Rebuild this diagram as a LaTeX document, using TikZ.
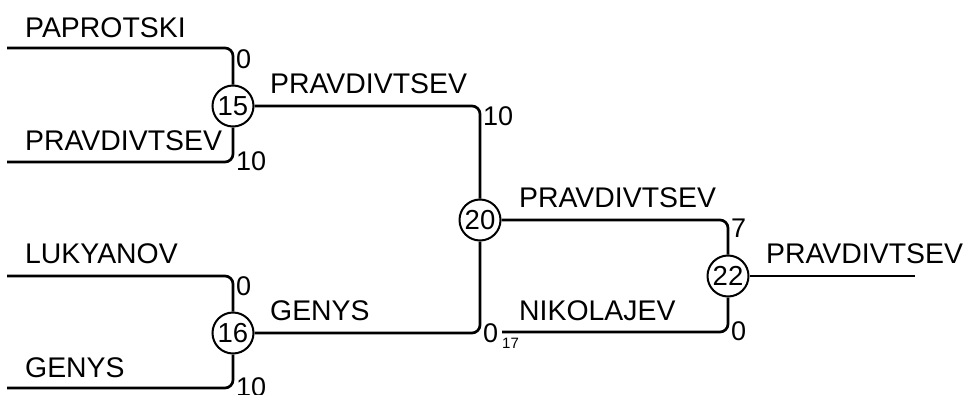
\documentclass[tikz,border=0pt]{standalone}
\usepackage{fontspec}
\setmainfont{Liberation Sans}
\begin{document}
\begin{tikzpicture}[x=1pt,y=-1pt,
  conn/.style={line width=2.7pt, rounded corners=8pt, line cap=butt},
  match/.style={circle, draw, line width=2pt, minimum size=41pt, inner sep=0pt, font=\fontsize{27.5}{27.5}\selectfont},
  pname/.style={anchor=base west, inner sep=0pt, font=\fontsize{28.4}{28.4}\selectfont},
  score/.style={anchor=base west, inner sep=0pt, font=\fontsize{27}{27}\selectfont},
  sub/.style={anchor=base west, inner sep=0pt, font=\fontsize{15}{15}\selectfont}]
\useasboundingbox (0,0) rectangle (964,394);
% matches
\node[match] (m15) at (233,106) {15};
\node[match] (m16) at (233,333) {16};
\node[match] (m20) at (480,220) {20};
\node[match] (m22) at (728,276) {22};
% free ends
\coordinate (a1) at (7,48);
\coordinate (a2) at (7,162);
\coordinate (a3) at (7,276);
\coordinate (a4) at (7,388);
\coordinate (a5) at (502,332);
\coordinate (w) at (915,276);
% connectors
\draw[conn] (a1) -| (m15);
\draw[conn] (a2) -| (m15);
\draw[conn] (a3) -| (m16);
\draw[conn] (a4) -| (m16);
\draw[conn] (m15) -| (m20);
\draw[conn] (m16) -| (m20);
\draw[conn] (m20) -| (m22);
\draw[conn] (a5) -| (m22);
\draw[conn] (m22) -- (w);
% names
\node[pname] (n1) at (25,37) {PAPROTSKI};
\node[pname] (n2) at (25,150) {PRAVDIVTSEV};
\node[pname] (n3) at (25,263) {LUKYANOV};
\node[pname] (n4) at (25,377) {GENYS};
\node[pname] (n5) at (270,93) {PRAVDIVTSEV};
\node[pname] (n6) at (270,320) {GENYS};
\node[pname] (n7) at (519,207) {PRAVDIVTSEV};
\node[pname] (n8) at (519,320) {NIKOLAJEV};
\node[pname] (n9) at (766,263) {PRAVDIVTSEV};
% scores
\node[score] (s1) at (236,68) {0};
\node[score] (s2) at (236,170) {10};
\node[score] (s3) at (236,295) {0};
\node[score] (s4) at (236,396) {10};
\node[score] (s5) at (483,125) {10};
\node[score] (s6) at (483,342) {0};
\node[sub] (s7) at (502,348) {17};
\node[score] (s8) at (731,237) {7};
\node[score] (s9) at (731,340) {0};
\end{tikzpicture}
\end{document}
